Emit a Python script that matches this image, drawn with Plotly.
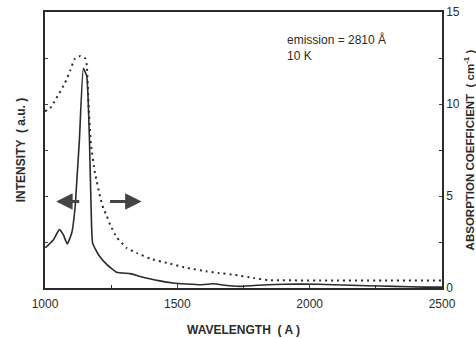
import plotly.graph_objects as go

# Absorption coefficient (dotted, right axis, cm^-1)
abs_wl = [1000, 1025, 1038, 1054, 1076, 1095, 1111, 1133, 1152, 1158, 1165, 1173, 1189, 1208,
          1220, 1234, 1246, 1271, 1309, 1347, 1398, 1461, 1537, 1613, 1657, 1713, 1789, 1840,
          2093, 2300, 2500]
abs_val = [9.6, 9.86, 10.2, 10.58, 11.16, 11.8, 12.43, 12.61, 12.48, 12.1, 9.8, 7.87, 6.24, 4.97,
           4.34, 3.89, 3.44, 2.75, 2.17, 1.9, 1.59, 1.36, 1.09, 0.9, 0.81, 0.72, 0.54, 0.43,
           0.41, 0.41, 0.41]

# Emission intensity (solid, left axis, a.u.)
int_wl = [1000, 1004, 1032, 1054, 1069, 1084, 1101, 1114, 1122, 1130, 1145, 1158, 1168, 1174,
          1180, 1202, 1234, 1271, 1322, 1360, 1429, 1485, 1587, 1638, 1663, 1739, 1840, 1966,
          2093, 2218, 2319, 2433, 2500]
int_val = [2.2, 2.22, 2.62, 3.17, 2.9, 2.4, 2.99, 4.43, 6.24, 8.05, 11.94, 11.5, 8.05, 4.43,
           2.44, 1.81, 1.27, 0.85, 0.78, 0.63, 0.40, 0.27, 0.18, 0.23, 0.18, 0.09, 0.18, 0.22,
           0.18, 0.12, 0.09, 0.05, 0.05]

x_ticks = [1000, 1500, 2000, 2500]
x_minor = [1250, 1750, 2250]
y2_ticks = [0, 5, 10, 15]

ink = "#2b2b2b"
font = "Liberation Sans, Arial, sans-serif"

fig = go.Figure()
fig.add_trace(go.Scatter(x=int_wl, y=int_val, mode="lines",
                         line=dict(color=ink, width=1.6, shape="spline", smoothing=0.4),
                         yaxis="y", showlegend=False))
fig.add_trace(go.Scatter(x=abs_wl, y=abs_val, mode="lines",
                         line=dict(color=ink, width=2, dash="2px,4px", shape="spline", smoothing=0.3),
                         yaxis="y2", showlegend=False))

fig.update_layout(
    width=476, height=338,
    margin=dict(l=45, r=34, t=12, b=50),
    paper_bgcolor="white", plot_bgcolor="white",
    font=dict(family=font, color=ink, size=12),
    xaxis=dict(range=[1000, 2500], tickvals=x_ticks, ticks="inside", ticklen=4,
               minor=dict(tickvals=x_minor, ticks="inside", ticklen=3, tickcolor=ink),
               showline=True, linecolor=ink, linewidth=1.5, mirror=True, automargin=False,
               showgrid=False, zeroline=False, tickfont=dict(size=12), ticklabelstandoff=4,
               title=dict(text="<b>WAVELENGTH  ( A )</b>", font=dict(size=12))),
    yaxis=dict(range=[0, 15], tickvals=[2.5, 5, 7.5, 10, 12.5], ticks="inside", ticklen=3,
               showticklabels=False, showline=True, linecolor=ink, linewidth=1.5,
               showgrid=False, zeroline=False, automargin=False,
               title=dict(text="<b>INTENSITY  ( a.u. )</b>", font=dict(size=12))),
    yaxis2=dict(range=[0, 15], overlaying="y", side="right", tickvals=y2_ticks,
                minor=dict(tickvals=[2.5, 7.5, 12.5], ticks="inside", ticklen=3, tickcolor=ink),
                ticks="inside", ticklen=3, showline=True, linecolor=ink, linewidth=1.5,
                showgrid=False, zeroline=False, tickfont=dict(size=12), automargin=False,
                title=dict(text="<b>ABSORPTION COEFFICIENT  ( cm<sup>-1</sup> )</b>",
                           font=dict(size=11.5))),
    annotations=[
        dict(x=1905, y=14.0, xref="x", yref="y", text="emission = 2810 Å<br>10 K",
             showarrow=False, xanchor="left", yanchor="top", align="left",
             font=dict(size=12, color=ink)),
        dict(x=1042, y=4.7, ax=1135, ay=4.7, xref="x", yref="y", axref="x", ayref="y",
             text="", showarrow=True, arrowhead=2, arrowsize=1.1, arrowwidth=3, arrowcolor="#444"),
        dict(x=1365, y=4.7, ax=1240, ay=4.7, xref="x", yref="y", axref="x", ayref="y",
             text="", showarrow=True, arrowhead=2, arrowsize=1.1, arrowwidth=3, arrowcolor="#444"),
    ],
)

fig.write_html("out.html")
